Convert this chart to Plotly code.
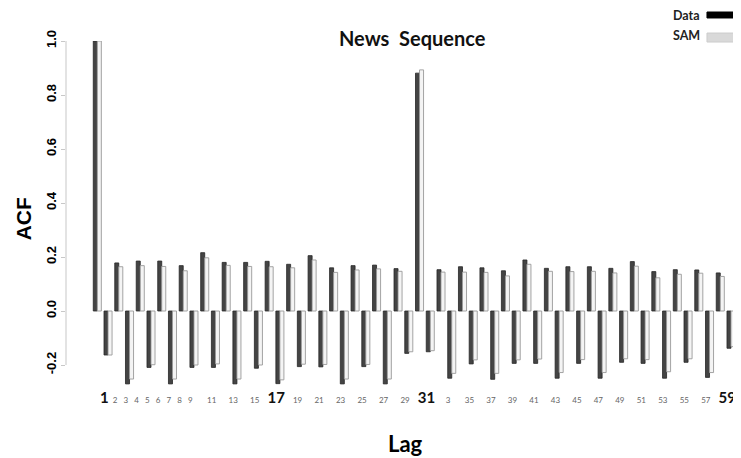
import plotly.graph_objects as go

# ACF by lag
lags = list(range(0, 61))
acf_data = [
    1.00, -0.163, 0.178, -0.270, 0.185, -0.209, 0.185, -0.270, 0.168, -0.209,
    0.216, -0.209, 0.180, -0.270, 0.180, -0.212, 0.184, -0.269, 0.173, -0.206,
    0.205, -0.207, 0.160, -0.270, 0.168, -0.206, 0.170, -0.270, 0.157, -0.157,
    0.881, -0.151, 0.153, -0.249, 0.164, -0.196, 0.160, -0.253, 0.149, -0.194,
    0.189, -0.194, 0.158, -0.249, 0.164, -0.194, 0.164, -0.249, 0.158, -0.190,
    0.183, -0.194, 0.146, -0.249, 0.153, -0.190, 0.152, -0.246, 0.141, -0.138,
    0.789,
]
acf_sam = [
    1.00, -0.163, 0.164, -0.252, 0.168, -0.199, 0.165, -0.252, 0.149, -0.200,
    0.197, -0.196, 0.169, -0.252, 0.165, -0.200, 0.164, -0.255, 0.160, -0.197,
    0.189, -0.198, 0.143, -0.252, 0.152, -0.198, 0.156, -0.252, 0.147, -0.151,
    0.893, -0.147, 0.144, -0.231, 0.144, -0.181, 0.143, -0.231, 0.130, -0.181,
    0.173, -0.178, 0.147, -0.228, 0.146, -0.180, 0.147, -0.228, 0.141, -0.177,
    0.166, -0.180, 0.123, -0.225, 0.136, -0.177, 0.140, -0.228, 0.128, -0.132,
    0.800,
]

# x tick labels as printed under the bars
small_lags = [2, 3, 4, 5, 6, 7, 8, 9, 11, 13, 15, 19, 21, 23, 25, 27, 29,
              33, 35, 37, 39, 41, 43, 45, 47, 49, 51, 53, 55, 57]
small_text = ['2', '3', '4', '5', '6', '7', '8', '9', '11', '13', '15', '19', '21', '23', '25', '27', '29',
              '3', '35', '37', '39', '41', '43', '45', '47', '49', '51', '53', '55', '57']
big_lags = [1, 17, 31, 59]

y_ticks = [-0.2, 0.0, 0.2, 0.4, 0.6, 0.8, 1.0]

tick_lags = small_lags + big_lags
tick_text = [f"<span style='font-size:8px;color:#666666'>{t}</span>" for t in small_text] + \
            [f"<b>{b}</b>" for b in big_lags]

fig = go.Figure()
fig.add_trace(go.Bar(
    name='Data', x=lags, y=acf_data,
    marker=dict(color='#444444', line=dict(color='#262626', width=0.8)),
))
fig.add_trace(go.Bar(
    name='SAM', x=lags, y=acf_sam,
    marker=dict(color='#f4f4f4', line=dict(color='#9a9a9a', width=0.9)),
))

# the page body adds an 8px margin, so the figure is 8px smaller each way
fig.update_layout(
    width=733, height=450,
    margin=dict(l=58, r=0, t=33, b=71),
    paper_bgcolor='white', plot_bgcolor='white',
    barmode='group', bargap=0.25, bargroupgap=0,
    showlegend=False,
    font=dict(family='Lato, Liberation Sans, sans-serif', color='black'),
    xaxis=dict(
        range=[-2.914, 59.93],
        automargin=False,
        tickmode='array',
        tickvals=[k - 0.35 for k in tick_lags],
        ticktext=tick_text,
        tickangle=0,
        tickfont=dict(size=15, family='Lato, sans-serif', color='#111111'),
        showline=False, showgrid=False, zeroline=False, ticks='',
    ),
    yaxis=dict(
        range=[-0.2815, 1.0],
        automargin=False,
        tickmode='array',
        tickvals=y_ticks,
        ticktext=[f'{v:.1f}' for v in y_ticks],
        tickangle=-90,
        tickfont=dict(size=13, family='Liberation Sans, Arial, sans-serif', weight='bold'),
        ticks='outside', ticklen=4, tickcolor='#c8c8c8', tickwidth=1,
        showline=False, showgrid=False, zeroline=False,
    ),
)

# y axis line only spans the labelled ticks
fig.add_shape(type='line', xref='paper', yref='y', x0=0, x1=0,
              y0=min(y_ticks), y1=max(y_ticks), line=dict(color='#d0d0d0', width=1.2))

fig.add_annotation(text='<b>News  Sequence</b>', xref='paper', yref='paper',
                   x=0.514, y=1.009, showarrow=False, xanchor='center', yanchor='middle',
                   font=dict(size=20, family='Lato, sans-serif', color='#111111'))
fig.add_annotation(text='<b>ACF</b>', xref='paper', yref='paper',
                   x=-0.063, y=0.486, textangle=-90, showarrow=False,
                   xanchor='center', yanchor='middle',
                   font=dict(size=21, family='Liberation Sans, Arial, sans-serif'))
fig.add_annotation(text='<b>Lag</b>', xref='paper', yref='paper',
                   x=0.503, y=-0.162, showarrow=False, xanchor='center', yanchor='middle',
                   font=dict(size=22, family='Lato, sans-serif'))

# legend: text on the left, swatch on the right
legend_names = ['Data', 'SAM']
legend_fill = ['#000000', '#d9d9d9']
legend_edge = ['#000000', '#cccccc']
label_y = [1.075, 1.0145]
swatch_y = [(1.0665, 1.0838), (0.997, 1.023)]
for name, col, edge, ly, (s0, s1) in zip(legend_names, legend_fill, legend_edge, label_y, swatch_y):
    fig.add_annotation(text=f'<b>{name}</b>', xref='paper', yref='paper',
                       x=0.9407, y=ly, showarrow=False, xanchor='right', yanchor='middle',
                       borderpad=0,
                       font=dict(size=12.5, family='Lato, sans-serif', color='#222222'))
    fig.add_shape(type='rect', xref='paper', yref='paper',
                  x0=0.9496, x1=1.0, y0=s0, y1=s1,
                  fillcolor=col, line=dict(color=edge, width=1))

fig.write_html('out.html')
